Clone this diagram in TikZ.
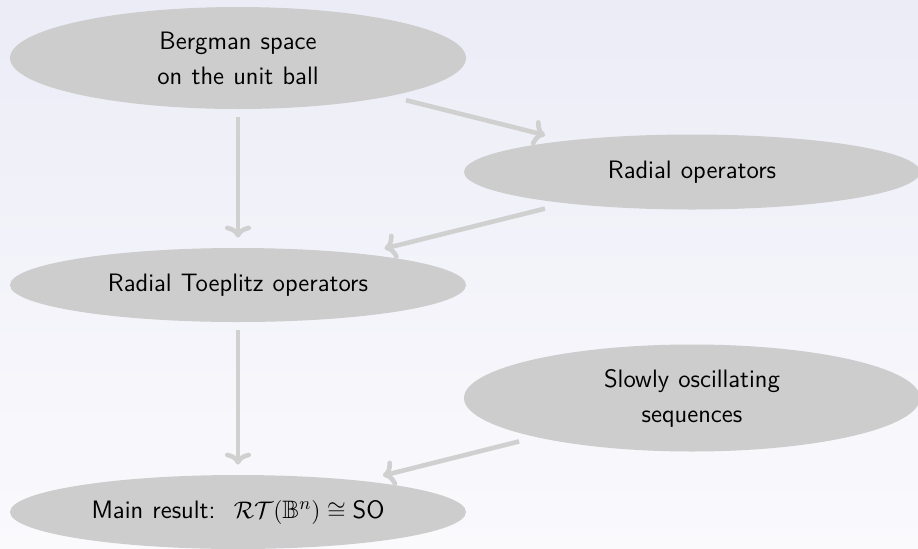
\documentclass[tikz,border=0pt]{standalone}
\usepackage{amssymb}
\usepackage{fontspec}
\usetikzlibrary{shapes.geometric,arrows.meta}
\definecolor{bgtop}{RGB}{236,236,247}
\definecolor{bgbot}{RGB}{250,250,253}
\definecolor{blob}{RGB}{205,205,205}
\definecolor{linkgray}{RGB}{208,208,208}
\newcommand\topicfont{\sffamily\fontsize{12.6}{17.5}\selectfont\spaceskip=4.6pt plus 1pt minus 0.5pt\relax}
\begin{document}
\begin{tikzpicture}[x=0.5pt,y=-0.5pt,
  topic/.style={ellipse, fill=blob, inner sep=0pt, minimum width=228pt,
    align=center, font=\topicfont},
  link/.style={draw=linkgray, line width=2.3pt, -{To[length=6pt,width=13pt]}}]
  % background
  \shade[top color=bgtop, bottom color=bgbot] (0,0) rectangle (918,548);
  \useasboundingbox (0,0) rectangle (918,548);
  % topics
  \node[topic, minimum height=51pt]   (berg)   at (238,58)  {Bergman space\\on the unit ball};
  \node[topic, minimum height=37.5pt] (radial) at (692,172) {Radial operators};
  \node[topic, minimum height=37pt]   (toep)   at (238,285) {Radial Toeplitz operators};
  \node[topic, minimum height=53.5pt] (slow)   at (692,398) {Slowly oscillating\\sequences};
  \node[topic, minimum height=37pt]   (main)   at (238,512) {Main result:\ \ $\mathcal{RT}(\mathbb{B}^n)\cong\textsf{SO}$};
  % links
  \draw[link, shorten <=4pt, shorten >=5pt] (berg) -- (toep);
  \draw[link, shorten <=4pt, shorten >=5pt] (toep) -- (main);
  \draw[link, shorten <=8pt, shorten >=10.8pt] (berg) -- (radial);
  \draw[link, shorten <=10.5pt, shorten >=10.8pt] (radial) -- (toep);
  \draw[link, shorten <=8.5pt, shorten >=10.4pt] (slow) -- (main);
\end{tikzpicture}
\end{document}
